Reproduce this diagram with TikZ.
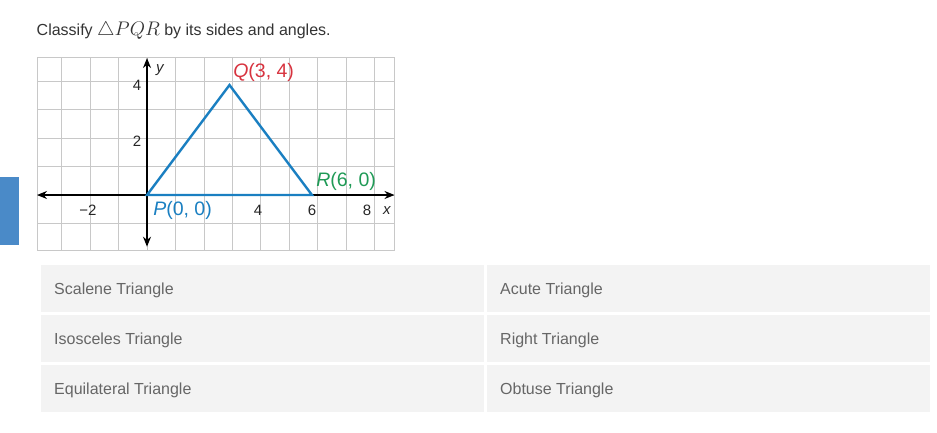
\documentclass[tikz,border=0pt]{standalone}
\usepackage{graphicx}
\usepackage{fontspec}
\setmainfont{Liberation Sans}
\usetikzlibrary{arrows.meta}
\definecolor{titlec}{HTML}{333333}
\definecolor{optc}{HTML}{666666}
\definecolor{rowc}{HTML}{F3F3F3}
\definecolor{gridc}{HTML}{C8C8C8}
\definecolor{triblue}{HTML}{1A7FC1}
\definecolor{qred}{HTML}{D7333F}
\definecolor{rgreen}{HTML}{1F9A56}
\definecolor{barblue}{HTML}{4A8AC8}
\tikzset{
  optrow/.style={fill=rowc, draw=none},
  opttext/.style={anchor=west, text=optc, font=\fontsize{16}{19}\selectfont, inner sep=0pt},
  ticklab/.style={font=\fontsize{15}{18}\selectfont, text=black!85, inner sep=0pt},
  ptlab/.style={anchor=west, font=\fontsize{19.5}{22}\selectfont, inner sep=0pt},
  axisline/.style={line width=1.3pt, {Stealth[length=10pt,width=8pt]}-{Stealth[length=10pt,width=8pt]}},
}
\begin{document}
\begin{tikzpicture}[x=1pt,y=-1pt]
\useasboundingbox (0,0) rectangle (937,432);
% left blue bar
\fill[barblue] (0,177) rectangle (18.5,245);
% title
\node[anchor=base west, inner sep=0pt, text=titlec, font=\fontsize{16}{19}\selectfont] (title) at (36.5,35.5)
  {Classify \scalebox{1.14}{$\triangle PQR$} by its sides and angles.};
% graph
\begin{scope}[shift={(147,195)}, x=27.5pt, y=27.5pt]
  \draw[gridc, line width=0.8pt] (-4,-2) grid (9,5);
  \draw[gridc, line width=0.8pt] (-4,-2) rectangle (9,5);
  \draw[axisline] (-4,0) -- (9,0);
  \draw[axisline] (0,-1.88) -- (0,4.98);
  \coordinate (P) at (0,0);
  \coordinate (Q) at (3,4);
  \coordinate (R) at (6,0);
  \draw[triblue, line width=2.4pt, line join=miter] (P) -- (Q) -- (R) -- cycle;
  \node[ticklab] (xm2) at (-2.15,-0.55) {−2};
  \node[ticklab] (x4) at (4.04,-0.55) {4};
  \node[ticklab] (x6) at (6.0,-0.55) {6};
  \node[ticklab] (x8) at (8.0,-0.55) {8};
  \node[ticklab] (xl) at (8.72,-0.55) {\itshape x};
  \node[ticklab] (y2) at (-0.36,1.96) {2};
  \node[ticklab] (y4) at (-0.36,4.0) {4};
  \node[ticklab] (yl) at (0.47,4.55) {\itshape y};
  \node[ptlab, text=qred] (Ql) at (3.13,4.47) {\itshape Q\upshape(3, 4)};
  \node[ptlab, text=rgreen] (Rl) at (6.15,0.51) {\itshape R\upshape(6, 0)};
  \node[ptlab, text=triblue] (Pl) at (0.22,-0.55) {\itshape P\upshape(0, 0)};
\end{scope}
% options table
\fill[optrow] (41,265) rectangle (483.5,312.3);
\fill[optrow] (41,315) rectangle (483.5,362.3);
\fill[optrow] (41,365.3) rectangle (483.5,412.3);
\fill[optrow] (487.3,265) rectangle (930,312.3);
\fill[optrow] (487.3,315) rectangle (930,362.3);
\fill[optrow] (487.3,365.3) rectangle (930,412.3);
\node[opttext] (o1) at (54,290) {Scalene Triangle};
\node[opttext] (o2) at (54,340) {Isosceles Triangle};
\node[opttext] (o3) at (54,390) {Equilateral Triangle};
\node[opttext] (o4) at (500,290) {Acute Triangle};
\node[opttext] (o5) at (500,340) {Right Triangle};
\node[opttext] (o6) at (500,390) {Obtuse Triangle};
\end{tikzpicture}
\end{document}
